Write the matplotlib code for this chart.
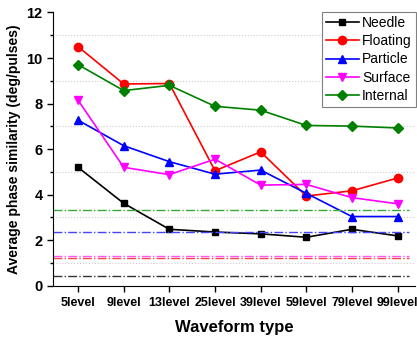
import matplotlib.pyplot as plt
from matplotlib.ticker import MultipleLocator

plt.rcParams['font.family'] = ['Liberation Sans', 'DejaVu Sans']

levels = ['5level', '9level', '13level', '25level', '39level', '59level', '79level', '99level']
needle = [5.2, 3.62, 2.48, 2.36, 2.28, 2.13, 2.48, 2.19]
floating = [10.5, 8.86, 8.88, 5.05, 5.88, 3.94, 4.17, 4.73]
particle = [7.27, 6.15, 5.45, 4.9, 5.08, 4.06, 3.04, 3.04]
surface = [8.15, 5.2, 4.88, 5.56, 4.42, 4.45, 3.87, 3.6]
internal = [9.71, 8.57, 8.8, 7.88, 7.71, 7.04, 7.01, 6.93]

# reference levels (dash-dot lines)
ref_needle = 0.44
ref_floating = 1.21
ref_particle = 2.38
ref_surface = 1.31
ref_internal = 3.32

fig = plt.figure(figsize=(4.17, 3.37), dpi=100)
ax = fig.add_axes([0.127, 0.152, 0.868, 0.811])

x = range(len(levels))
ax.plot(x, needle, color='black', marker='s', ms=5, lw=1.2, label='Needle')
ax.plot(x, floating, color='red', marker='o', ms=6, lw=1.2, label='Floating')
ax.plot(x, particle, color='blue', marker='^', ms=6, lw=1.2, label='Particle')
ax.plot(x, surface, color='magenta', marker='v', ms=6, lw=1.2, label='Surface')
ax.plot(x, internal, color='green', marker='D', ms=5, lw=1.2, label='Internal')

x0, x1 = -0.55, 7.25
ax.hlines(ref_internal, x0, x1, colors='#33aa33', linestyles='-.', lw=1)
ax.hlines(ref_particle, x0, x1, colors='#4444ff', linestyles='-.', lw=1)
ax.hlines(ref_surface, x0, x1, colors='#ff55ff', linestyles='-.', lw=1)
ax.hlines(ref_floating, x0, x1, colors='#ff4444', linestyles='-.', lw=1)
ax.hlines(ref_needle, x0, x1, colors='#333333', linestyles='-.', lw=1)

ax.set_xlim(-0.55, 7.38)
ax.set_ylim(0, 12)
ax.set_xticks(list(x))
ax.set_xticklabels(levels, fontsize=9, fontweight='bold')
ax.yaxis.set_major_locator(MultipleLocator(2))
ax.yaxis.set_minor_locator(MultipleLocator(1))
for lab in ax.get_yticklabels():
    lab.set_fontweight('bold')
    lab.set_fontsize(10.5)
ax.grid(True, which='minor', axis='y', color='#cccccc', linestyle=':', lw=0.8)
ax.set_axisbelow(True)
ax.tick_params(axis='y', which='major', length=4, width=1)
ax.tick_params(axis='y', which='minor', length=2.5, width=1)
ax.tick_params(axis='x', length=4, width=1, pad=4)

ax.spines['top'].set_visible(False)
ax.spines['right'].set_visible(False)

ax.set_xlabel('Waveform type', fontsize=12, fontweight='bold', labelpad=8)
ax.set_ylabel('Average phase similarity (deg/pulses)', fontsize=10, fontweight='bold')

leg = ax.legend(loc='upper right', bbox_to_anchor=(1.002, 1.002), borderaxespad=0,
                fontsize=10, fancybox=False, framealpha=1, edgecolor='gray',
                handlelength=2.4, borderpad=0.3, labelspacing=0.3, handletextpad=0.2)
leg.get_frame().set_linewidth(0.8)

plt.savefig('out.png')
